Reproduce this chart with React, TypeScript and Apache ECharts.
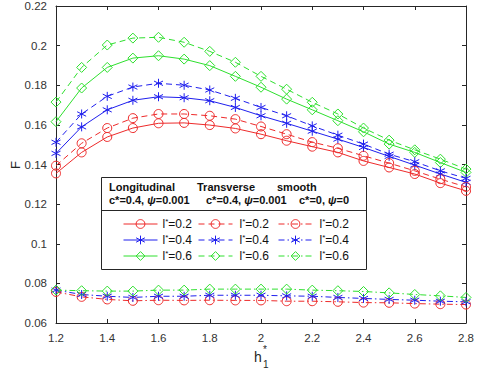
import React, { useEffect, useRef } from 'react';
import * as echarts from 'echarts';

const hVals = [1.2, 1.3, 1.4, 1.5, 1.6, 1.7, 1.8, 1.9, 2.0, 2.1, 2.2, 2.3, 2.4, 2.5, 2.6, 2.7, 2.8];

// Longitudinal (solid)
const longRed = [0.1355, 0.1461, 0.1539, 0.1584, 0.1608, 0.1610, 0.1599, 0.1582, 0.1553, 0.1520, 0.1490, 0.1461, 0.1418, 0.1385, 0.1352, 0.1306, 0.1267];
const longBlue = [0.1456, 0.1590, 0.1676, 0.1724, 0.1742, 0.1737, 0.1722, 0.1688, 0.1646, 0.1608, 0.1568, 0.1528, 0.1486, 0.1441, 0.1397, 0.1352, 0.1310];
const longGreen = [0.1616, 0.1786, 0.1890, 0.1937, 0.1949, 0.1932, 0.1899, 0.1845, 0.1790, 0.1730, 0.1676, 0.1621, 0.1565, 0.1503, 0.1461, 0.1410, 0.1360];

// Transverse (dashed)
const transRed = [0.1394, 0.1507, 0.1584, 0.1634, 0.1655, 0.1655, 0.1646, 0.1629, 0.1592, 0.1553, 0.1513, 0.1482, 0.1444, 0.1407, 0.1368, 0.1326, 0.1287];
const transBlue = [0.1512, 0.1655, 0.1744, 0.1791, 0.1810, 0.1800, 0.1776, 0.1734, 0.1688, 0.1646, 0.1595, 0.1548, 0.1503, 0.1452, 0.1414, 0.1368, 0.1330];
const transGreen = [0.1715, 0.1890, 0.2003, 0.2038, 0.2042, 0.2017, 0.1971, 0.1916, 0.1845, 0.1780, 0.1714, 0.1655, 0.1584, 0.1523, 0.1474, 0.1427, 0.1377];

// Smooth (dash-dot)
const smoothRed = [0.0757, 0.0732, 0.0719, 0.0712, 0.0715, 0.0714, 0.0715, 0.0714, 0.0714, 0.0710, 0.0710, 0.0707, 0.0703, 0.0702, 0.0698, 0.0695, 0.0693];
const smoothBlue = [0.0766, 0.0744, 0.0735, 0.0729, 0.0735, 0.0735, 0.0740, 0.0740, 0.0740, 0.0737, 0.0735, 0.0729, 0.0724, 0.0719, 0.0715, 0.0710, 0.0707];
const smoothGreen = [0.0766, 0.0763, 0.0761, 0.0761, 0.0766, 0.0766, 0.0771, 0.0771, 0.0771, 0.0771, 0.0766, 0.0763, 0.0759, 0.0752, 0.0744, 0.0737, 0.0729];

const lStarVals = ['0.2', '0.4', '0.6'];
const groupTitles = ['Longitudinal', 'Transverse', 'smooth'];
const groupParams = ['c*=0.4, {i|ψ}=0.001', 'c*=0.4, {i|ψ}=0.001', 'c*=0, {i|ψ}=0'];

const RED = '#ee2a2a';
const BLUE = '#1f1fee';
const GREEN = '#2ee02e';
const AXIS = '#262626';
const FONT = 'Liberation Sans, Arial, sans-serif';

const STAR = 'path://M5,0L5,10M0.67,2.5L9.33,7.5M0.67,7.5L9.33,2.5';

export default function App() {
  const ref = useRef<HTMLDivElement>(null);

  useEffect(() => {
    const chart = echarts.init(ref.current!, null, { renderer: 'svg' });

    const colors = [RED, BLUE, GREEN];
    const symbols = ['circle', STAR, 'diamond'];
    const sizes = [9, 9, 10];
    const groups = [
      { key: 'L', data: [longRed, longBlue, longGreen], dash: 'solid' as any },
      { key: 'T', data: [transRed, transBlue, transGreen], dash: [6, 4] as any },
      { key: 'S', data: [smoothRed, smoothBlue, smoothGreen], dash: [6, 3, 1.5, 3] as any },
    ];

    const series: any[] = [];
    groups.forEach((g) => {
      g.data.forEach((vals, k) => {
        series.push({
          type: 'line',
          name: g.key + lStarVals[k],
          data: hVals.map((h, i) => [h, vals[i]]),
          symbol: symbols[k],
          symbolSize: sizes[k],
          showSymbol: true,
          showAllSymbol: true,
          lineStyle: { color: colors[k], width: 1, type: g.dash },
          itemStyle: { color: 'none', borderColor: colors[k], borderWidth: 1 },
          emphasis: { disabled: true },
          z: 5,
        });
      });
    });

    const legendLefts = [123, 198, 278];
    const legends = groups.map((g, gi) => ({
      show: true,
      orient: 'vertical',
      left: legendLefts[gi],
      top: 217,
      padding: 0,
      itemWidth: 34,
      itemHeight: 11,
      itemGap: 2,
      selectedMode: false,
      z: 10,
      lineStyle: { width: 1 },
      itemStyle: { borderWidth: 1 },
      data: lStarVals.map((v) => g.key + v),
      formatter: (name: string) => 'l{s|*}=' + name.slice(1),
      textStyle: {
        fontFamily: FONT,
        fontSize: 12,
        color: '#111',
        lineHeight: 14,
        padding: [0, 0, 0, gi === 0 ? 0 : 2],
        rich: {
          s: { fontSize: 8, lineHeight: 8, verticalAlign: 'top', fontFamily: FONT, color: '#111' },
        },
      },
    }));

    const titleX = [109, 197, 277];
    const paramX = [109, 206, 299];

    const graphic: any[] = [
      {
        type: 'rect',
        shape: { x: 101.5, y: 177.5, width: 265, height: 92 },
        style: { fill: '#fff', stroke: AXIS, lineWidth: 1 },
        z: 3,
      },
      {
        type: 'line',
        shape: { x1: 101.5, y1: 210.5, x2: 366.5, y2: 210.5 },
        style: { stroke: AXIS, lineWidth: 1 },
        z: 4,
      },
      ...groupTitles.map((t, i) => ({
        type: 'text',
        x: titleX[i],
        y: 187,
        z: 4,
        style: { text: t, font: `bold 11px ${FONT}`, fill: '#111', verticalAlign: 'middle' },
      })),
      ...groupParams.map((t, i) => ({
        type: 'text',
        x: paramX[i],
        y: 200,
        z: 4,
        style: {
          text: t,
          fontFamily: FONT,
          fontSize: 11,
          fontWeight: 'bold',
          fill: '#111',
          verticalAlign: 'middle',
          rich: { i: { fontStyle: 'italic', fontWeight: 'bold', fontFamily: FONT, fontSize: 11 } },
        },
      })),
      {
        type: 'text',
        x: 15,
        y: 165,
        rotation: Math.PI / 2,
        style: { text: 'F', fontFamily: FONT, fontSize: 13, fill: AXIS, align: 'center', verticalAlign: 'middle' },
      },
      {
        type: 'text',
        x: 254,
        y: 357,
        style: { text: 'h', fontFamily: FONT, fontSize: 14, fill: AXIS, align: 'left', verticalAlign: 'middle' },
      },
      {
        type: 'text',
        x: 263,
        y: 349,
        style: { text: '*', fontFamily: FONT, fontSize: 10, fill: AXIS, align: 'left', verticalAlign: 'middle' },
      },
      {
        type: 'text',
        x: 263,
        y: 364,
        style: { text: '1', fontFamily: FONT, fontSize: 10, fill: AXIS, align: 'left', verticalAlign: 'middle' },
      },
    ];

    const axisCommon = {
      type: 'value',
      axisLine: { show: true, onZero: false, lineStyle: { color: AXIS, width: 1 } },
      axisTick: { show: true, inside: true, length: 4, lineStyle: { color: AXIS } },
      splitLine: { show: false },
    };

    chart.setOption({
      animation: false,
      backgroundColor: '#fff',
      grid: { left: 56, right: 14, top: 6, bottom: 52, containLabel: false },
      xAxis: [
        {
          ...axisCommon,
          position: 'bottom',
          min: 1.2,
          max: 2.8,
          interval: 0.2,
          axisLabel: { color: '#333', fontSize: 11.5, fontFamily: FONT, margin: 9 },
        },
        {
          ...axisCommon,
          position: 'top',
          min: 1.2,
          max: 2.8,
          interval: 0.2,
          axisLabel: { show: false },
        },
      ],
      yAxis: [
        {
          ...axisCommon,
          position: 'left',
          min: 0.06,
          max: 0.22,
          interval: 0.02,
          axisLabel: { color: '#333', fontSize: 11.5, fontFamily: FONT, margin: 9 },
        },
        {
          ...axisCommon,
          position: 'right',
          min: 0.06,
          max: 0.22,
          interval: 0.02,
          axisLabel: { show: false },
        },
      ],
      legend: legends,
      graphic,
      series,
    });

    return () => chart.dispose();
  }, []);

  return (
    <div
      ref={ref}
      style={{ position: 'fixed', left: 0, top: 0, width: 480, height: 375, background: '#fff' }}
    />
  );
}
